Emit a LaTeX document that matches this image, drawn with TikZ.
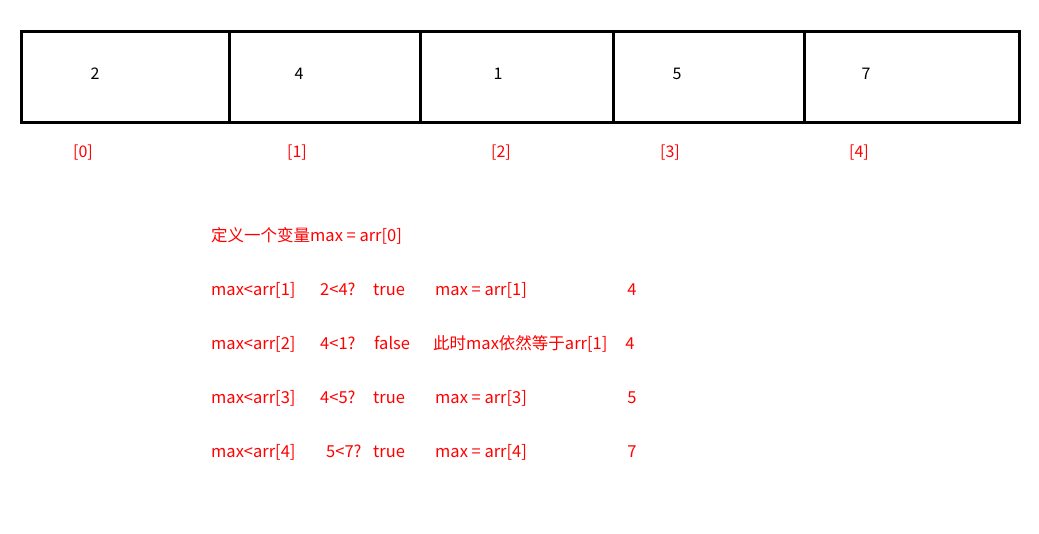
\documentclass[tikz,border=0pt]{standalone}
\usepackage{fontspec}
\setmainfont{Noto Sans CJK SC}
\usetikzlibrary{positioning}

\begin{document}
\begin{tikzpicture}[
    x=1pt, y=-1pt,
    cell/.style={rectangle, draw, line width=3pt, outer sep=0pt, inner sep=0pt, minimum height=91pt},
    val/.style={font=\fontsize{16}{19}\selectfont, text=black, inner sep=0pt},
    idx/.style={font=\fontsize{16}{19}\selectfont, text=red, inner sep=0pt},
    step line/.style={anchor=base west, font=\fontsize{16.5}{20}\selectfont, text=red, inner sep=0pt},
    result/.style={anchor=base, font=\fontsize{16.5}{20}\selectfont, text=red, inner sep=0pt}
]
\useasboundingbox (0,0) rectangle (1039,533);

% Array cells
\node[cell, anchor=north west, minimum width=208pt] (c0) at (21,31) {};
\node[cell, minimum width=191pt, right=0pt of c0] (c1) {};
\node[cell, minimum width=193pt, right=0pt of c1] (c2) {};
\node[cell, minimum width=191pt, right=0pt of c2] (c3) {};
\node[cell, minimum width=215pt, right=0pt of c3] (c4) {};

% Values
\node[val] (v0) at (95,74) {2};
\node[val] (v1) at (299,74) {4};
\node[val] (v2) at (498,74) {1};
\node[val] (v3) at (677,74) {5};
\node[val] (v4) at (866,74) {7};

% Indices
\node[idx] (i0) at (83,153) {[0]};
\node[idx] (i1) at (297,153) {[1]};
\node[idx] (i2) at (501,153) {[2]};
\node[idx] (i3) at (670,153) {[3]};
\node[idx] (i4) at (859,153) {[4]};

% Steps
\node[step line] (init) at (211,241) {定义一个变量max = arr[0]};

\node[step line] (s1a) at (211,295) {max<arr[1]};
\node[step line] (s1b) at (320,295) {2<4?};
\node[step line] (s1c) at (373,295) {true};
\node[step line] (s1d) at (435,295) {max = arr[1]};
\node[result] (s1e) at (632,295) {4};

\node[step line] (s2a) at (211,349) {max<arr[2]};
\node[step line] (s2b) at (320,349) {4<1?};
\node[step line] (s2c) at (374,349) {false};
\node[step line] (s2d) at (433,349) {此时max依然等于arr[1]};
\node[result] (s2e) at (630,349) {4};

\node[step line] (s3a) at (211,403) {max<arr[3]};
\node[step line] (s3b) at (320,403) {4<5?};
\node[step line] (s3c) at (373,403) {true};
\node[step line] (s3d) at (435,403) {max = arr[3]};
\node[result] (s3e) at (632,403) {5};

\node[step line] (s4a) at (211,457) {max<arr[4]};
\node[step line] (s4b) at (326,457) {5<7?};
\node[step line] (s4c) at (373,457) {true};
\node[step line] (s4d) at (435,457) {max = arr[4]};
\node[result] (s4e) at (632,457) {7};

\end{tikzpicture}
\end{document}
